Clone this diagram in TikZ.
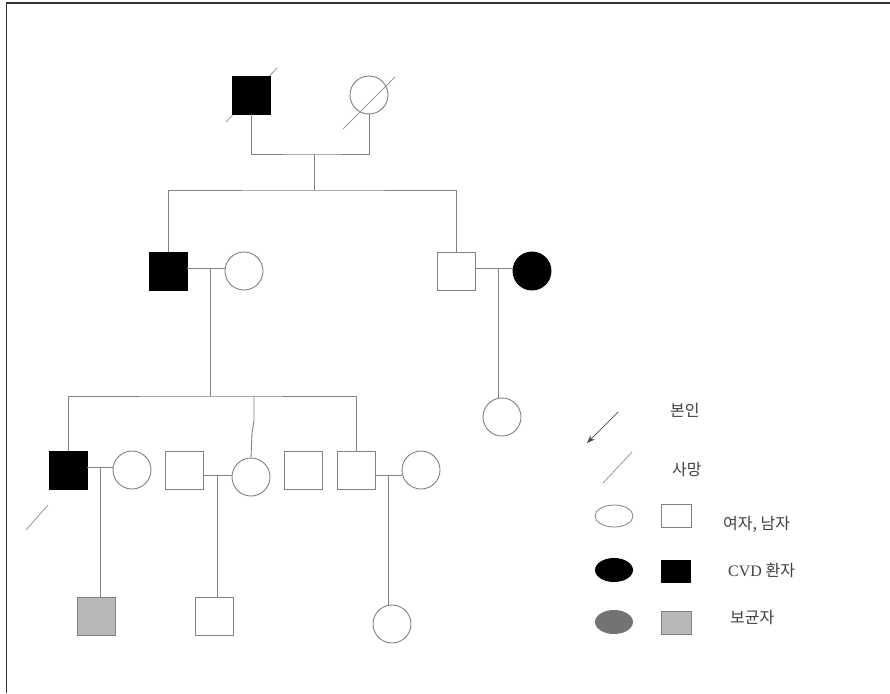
\documentclass[tikz,border=0pt]{standalone}
\usepackage{fontspec}
\setmainfont{Liberation Serif}
\newfontfamily\kr{Noto Sans CJK KR}
\usetikzlibrary{shapes.geometric,arrows.meta}
\tikzset{
  male/.style={draw=gray,rectangle,minimum size=38pt,inner sep=0pt,line width=0.9pt},
  female/.style={draw=gray,circle,minimum size=38pt,inner sep=0pt,line width=0.9pt},
  affected/.style={fill=black,draw=black},
  carrier/.style={fill=black!28},
  line/.style={draw=gray,line width=0.9pt},
  dead/.style={draw=gray!80,line width=0.8pt},
  keyshape/.style={inner sep=0pt,line width=0.8pt},
  keytext/.style={anchor=west,inner sep=0pt,text=black!75,font=\kr\fontsize{16}{18}\selectfont},
}
\begin{document}
\begin{tikzpicture}[x=1pt,y=-1pt]
\useasboundingbox (0,0) rectangle (890,693);
\draw[line width=1.5pt,black!80] (6.5,693) -- (6.5,3) -- (890,3);

\draw[dead] (226,122) -- (277,68);
\node[male,affected] (gf) at (251,95) {};
\node[female] (gm) at (369,95) {};
\draw[dead] (343,129) -- (395,77);
\coordinate (m0) at (314,154);
\coordinate (s1) at (314,190);
\draw[line] (gf.south) |- (m0) -| (gm.south);
\draw[line] (m0) -- (s1);

\node[male,affected] (f1) at (168,271) {};
\node[female] (mo1) at (244,271) {};
\node[male] (u1) at (456,271) {};
\node[female,affected] (a1) at (532,271) {};
\draw[line] (f1.north) |- (s1) -| (u1.north);
\coordinate (m1) at (210,268);
\coordinate (m2) at (498,268);
\draw[line] (f1.east |- m1) -- (mo1.west |- m1);
\draw[line] (u1.east |- m2) -- (a1.west |- m2);
\node[female] (k1) at (502,417) {};
\draw[line] (m2) -- (m2 |- k1.north);

\node[male,affected] (p) at (68,470) {};
\node[female] (w1) at (132,470) {};
\node[male] (h2) at (184,470) {};
\node[female] (d2) at (251,477) {};
\node[male] (b3) at (303,470) {};
\node[male] (b4) at (356,470) {};
\node[female] (w4) at (421,470) {};
\draw[dead] (26,530) -- (48,505);
\coordinate (s2) at (210,396);
\coordinate (j2) at (254,396);
\coordinate (k2) at (254,421);
\coordinate (l2) at (252,433);
\draw[line] (m1) -- (s2);
\draw[line] (p.north) |- (s2) -| (b4.north);
\draw[line] (j2) -- (k2) -- (l2) -- (d2.north);
\coordinate (m3) at (100,467);
\coordinate (m4) at (217,475);
\coordinate (m5) at (388,475);
\draw[line] (p.east |- m3) -- (w1.west |- m3);
\draw[line] (h2.east |- m4) -- (d2.west |- m4);
\draw[line] (b4.east |- m5) -- (w4.west |- m5);

\node[male,carrier] (c1) at (96,616) {};
\node[male] (c2) at (214,616) {};
\node[female] (c3) at (392,624) {};
\draw[line] (m3) -- (m3 |- c1.north);
\draw[line] (m4) -- (m4 |- c2.north);
\draw[line] (m5) -- (m5 |- c3.north);

\draw[-{Stealth[length=8pt,width=6pt]},black!70,line width=0.7pt] (618,412) -- (587,443);
\node[keytext] (kself) at (670,410) {본인};
\draw[dead] (603,483) -- (632,452);
\node[keytext] (kdead) at (672,470) {사망};
\node[keyshape,ellipse,draw=gray,minimum width=38pt,minimum height=22pt] (kf) at (614,516) {};
\node[keyshape,draw=gray,minimum width=30pt,minimum height=23pt] (km) at (676,516) {};
\node[keytext] (ksex) at (723,524) {여자, 남자};
\node[keyshape,ellipse,fill=black,minimum width=38pt,minimum height=24pt] (kfa) at (614,570) {};
\node[keyshape,fill=black,minimum width=30pt,minimum height=23pt] (kma) at (676,571) {};
\node[keytext] (kcvd) at (728,570) {{\rmfamily\fontsize{16}{18}\selectfont CVD} 환자};
\node[keyshape,ellipse,fill=black!55,minimum width=38pt,minimum height=24pt] (kfc) at (614,622) {};
\node[keyshape,draw=gray,fill=black!28,minimum width=30pt,minimum height=23pt] (kmc) at (676,623) {};
\node[keytext] (kcar) at (730,617) {보균자};
\end{tikzpicture}
\end{document}
